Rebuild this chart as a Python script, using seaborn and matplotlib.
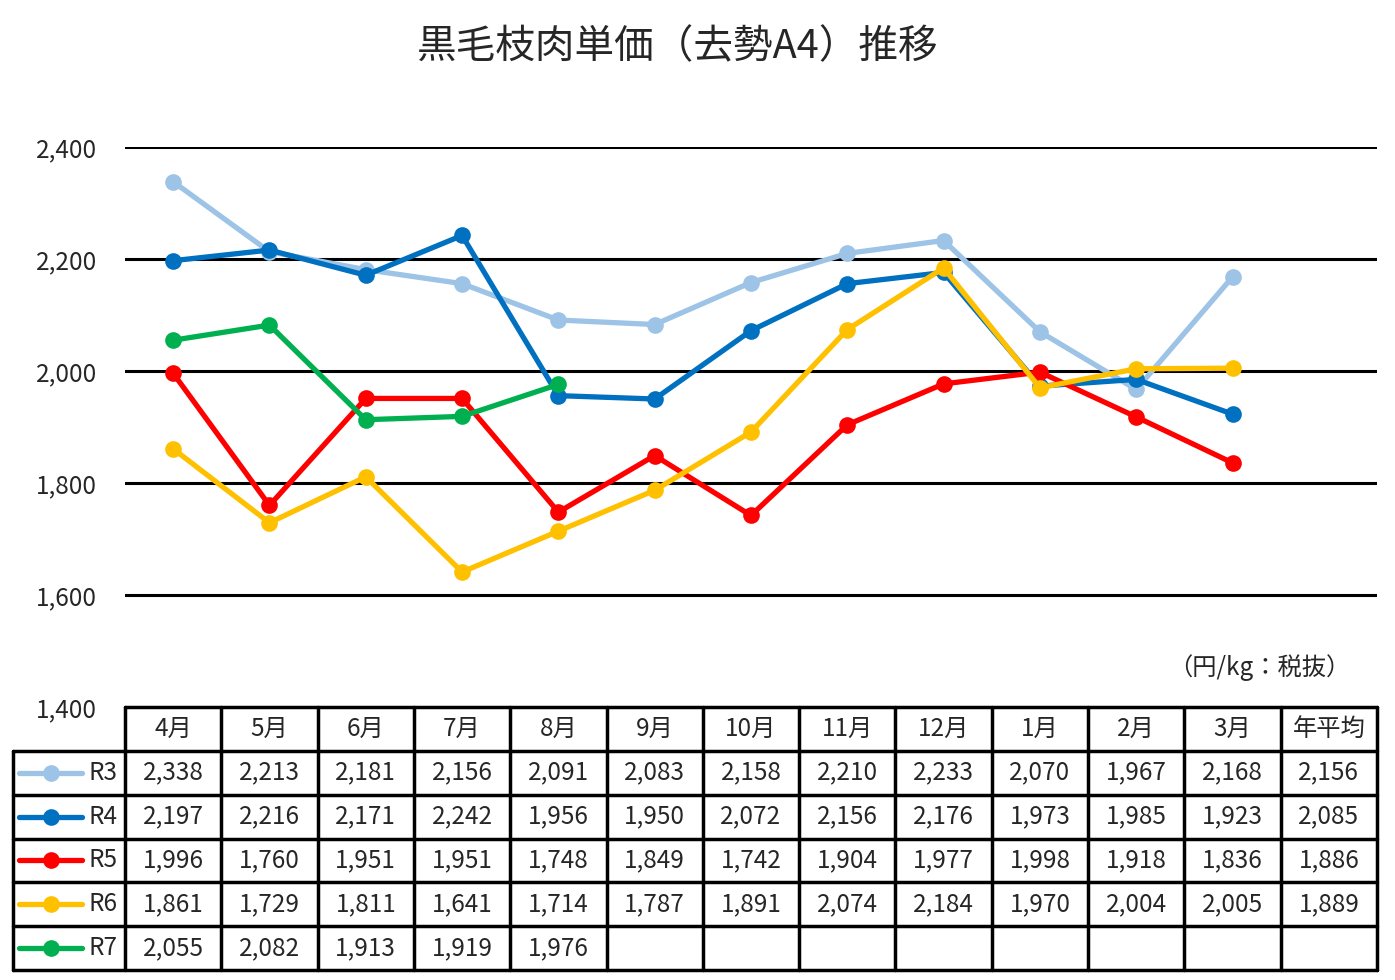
import numpy as np
import pandas as pd
import matplotlib
matplotlib.use("Agg")
import matplotlib.pyplot as plt
import seaborn as sns

sns.set_theme(style="white")
plt.rcParams['font.family'] = ['Noto Sans CJK JP', 'DejaVu Sans']

# データ
months = ["4月", "5月", "6月", "7月", "8月", "9月", "10月", "11月", "12月", "1月", "2月", "3月"]
avg_label = "年平均"
series_names = ["R3", "R4", "R5", "R6", "R7"]
r3 = [2338, 2213, 2181, 2156, 2091, 2083, 2158, 2210, 2233, 2070, 1967, 2168]
r4 = [2197, 2216, 2171, 2242, 1956, 1950, 2072, 2156, 2176, 1973, 1985, 1923]
r5 = [1996, 1760, 1951, 1951, 1748, 1849, 1742, 1904, 1977, 1998, 1918, 1836]
r6 = [1861, 1729, 1811, 1641, 1714, 1787, 1891, 2074, 2184, 1970, 2004, 2005]
r7 = [2055, 2082, 1913, 1919, 1976]
averages = [2156, 2085, 1886, 1889, None]
colors = ["#9DC3E6", "#0070C0", "#FF0000", "#FFC000", "#00B050"]

values = [r3, r4, r5, r6, r7]
rows = []
for name, vals in zip(series_names, values):
    for i, v in enumerate(vals):
        rows.append({"month": i, "price": v, "series": name})
df = pd.DataFrame(rows)

W, H = 1395, 980
fig = plt.figure(figsize=(13.95, 9.8), dpi=100)
fs = 17.5

# グラフ本体
ax = fig.add_axes([125 / W, 1 - 707 / H, (1377 - 125) / W, (707 - 147) / H])
sns.lineplot(data=df, x="month", y="price", hue="series", palette=colors,
             marker="o", markersize=12, markeredgewidth=0, linewidth=3.8,
             legend=False, ax=ax)
ax.set_xlim(-0.5, len(months) + 0.5)
ax.set_ylim(1400, 2400)
ax.set_yticks(range(1400, 2401, 200))
ax.set_yticklabels([f"{v:,}" for v in range(1400, 2401, 200)], fontsize=fs)
ax.tick_params(axis="y", length=0, pad=20)
ax.set_xticks([])
ax.set_xlabel("")
ax.set_ylabel("")
for s in ax.spines.values():
    s.set_visible(False)
for v in range(1600, 2401, 200):
    ax.axhline(v, color="black", lw=2.2, zorder=0)

fig.text(0.486, 1 - 47 / H, "黒毛枝肉単価（去勢A4）推移", ha="center", va="center", fontsize=28.5)
fig.text(1259 / W, 1 - 668 / H, "（円/kg：税抜）", ha="center", va="center", fontsize=fs)

# データテーブル
col_w = (1377 - 125) / 13
left = -0.5 - (125 - 13) / col_w
tax = fig.add_axes([13 / W, 1 - 970 / H, (1377 - 13) / W, (970 - 707) / H])
tax.set_xlim(left, 12.5)
tax.set_ylim(6, 0)
tax.axis("off")
lw = 2.5
headers = months + [avg_label]
tax.plot([-0.5, 12.5], [0, 0], color="black", lw=lw, clip_on=False)
for r in range(1, 7):
    tax.plot([left, 12.5], [r, r], color="black", lw=lw, clip_on=False)
tax.plot([left, left], [1, 6], color="black", lw=lw, clip_on=False)
for c in range(14):
    tax.plot([c - 0.5, c - 0.5], [0, 6], color="black", lw=lw, clip_on=False)
for c, h in enumerate(headers):
    tax.text(c, 0.5, h, ha="center", va="center", fontsize=fs)
for r, (name, vals, avg, col) in enumerate(zip(series_names, values, averages, colors), start=1):
    cells = list(vals) + [None] * (12 - len(vals)) + [avg]
    for c, v in enumerate(cells):
        if v is not None:
            tax.text(c, r + 0.5, f"{v:,}", ha="center", va="center", fontsize=fs)
    tax.plot([left + 0.06, left + 0.72], [r + 0.5, r + 0.5], color=col, lw=3.8,
             solid_capstyle="round", clip_on=False)
    tax.plot([left + 0.39], [r + 0.5], "o", color=col, markersize=12, markeredgewidth=0)
    tax.text(left + 0.78, r + 0.5, name, ha="left", va="center", fontsize=fs)

fig.savefig("out.png", dpi=100)
